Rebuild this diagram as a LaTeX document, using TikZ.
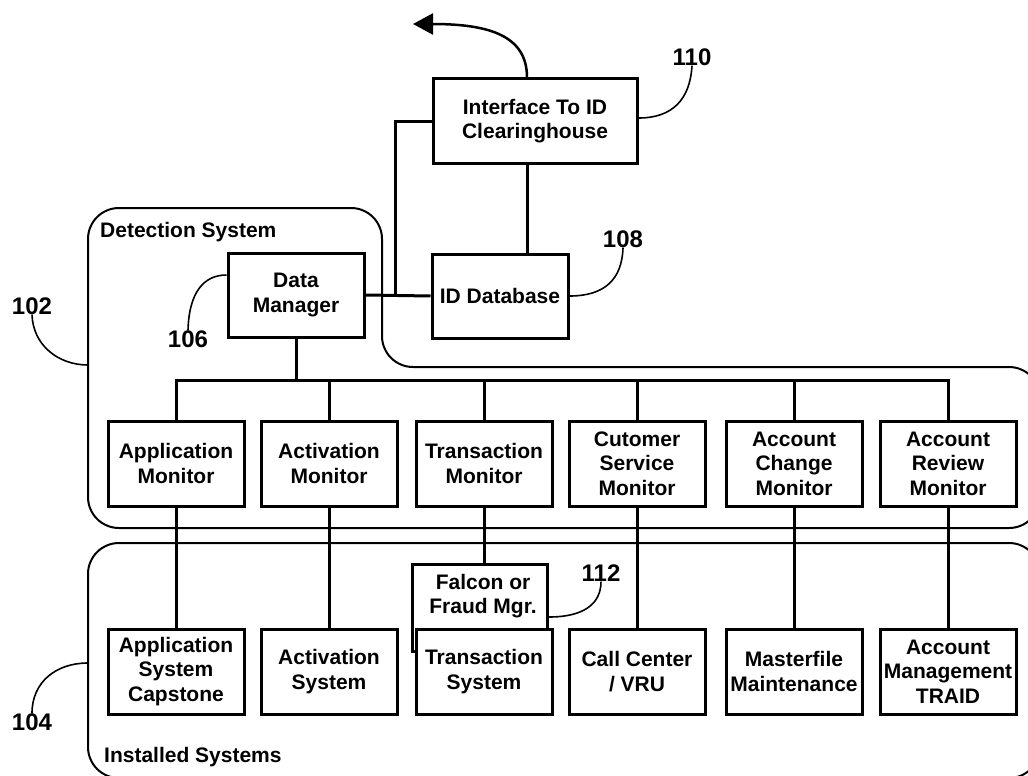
\documentclass[tikz,border=0pt]{standalone}
\usepackage{fontspec}
\setmainfont{Liberation Sans}
\usetikzlibrary{arrows.meta}
\tikzset{
  box/.style={draw, line width=3pt, fill=white, minimum width=136pt, minimum height=85pt,
    align=center, inner sep=1pt, font=\bfseries\fontsize{21}{24.5}\selectfont},
  plaintext/.style={align=center, inner sep=0pt, font=\bfseries\fontsize{21}{24.5}\selectfont},
  conn/.style={line width=3pt},
  outline/.style={line width=2pt, rounded corners=31pt},
  leader/.style={line width=1.6pt},
  refnum/.style={font=\bfseries\fontsize{24}{28}\selectfont, inner sep=0pt},
  grouplabel/.style={font=\bfseries\fontsize{21}{24}\selectfont, anchor=west, inner sep=0pt},
}
\begin{document}
\begin{tikzpicture}[x=1pt, y=-1pt]
\useasboundingbox (0,0) rectangle (1028,776);
\clip (0,0) rectangle (1028,776);
\fill[white] (0,0) rectangle (1028,776);

% group outlines
\draw[outline] (88,208) -- (382,208) -- (382,367) -- (1040,367) -- (1040,528) -- (88,528) -- cycle;
\draw[outline] (88,543) -- (1040,543) -- (1040,778) -- (88,778) -- cycle;
\node[grouplabel] (detlabel) at (100,232) {Detection System};
\node[grouplabel] (inslabel) at (104,757) {Installed Systems};

% top boxes
\node[box, minimum width=204pt, minimum height=84pt] (iface) at (535,121) {Interface To ID\\Clearinghouse};
\node[box, minimum height=84pt] (iddb) at (500,296) {ID Database};
\node[box, minimum height=84pt] (dm) at (296,295) {Data\\Manager};

% monitors
\node[box] (am) at (176,463.5) {Application\\Monitor};
\node[box] (acm) at (329,463.5) {Activation\\Monitor};
\node[box] (tm) at (484,463.5) {Transaction\\Monitor};
\node[box] (csm) at (637,463.5) {Cutomer\\Service\\Monitor};
\node[box] (chm) at (794,463.5) {Account\\Change\\Monitor};
\node[box] (rvm) at (948,463.5) {Account\\Review\\Monitor};

% installed systems
\node[box, minimum width=135pt, minimum height=87pt, anchor=north west] (falcon) at (411,563) {};
\node[plaintext] (falcontext) at (483,596) {Falcon or\\Fraud Mgr.};
\node[box] (as) at (176,671.5) {Application\\System\\Capstone};
\node[box] (acs) at (329,671.5) {Activation\\System};
\node[box] (ts) at (484,671.5) {Transaction\\System};
\node[box] (cc) at (637,671.5) {Call Center\\/ VRU};
\node[box] (mf) at (794,671.5) {Masterfile\\Maintenance};
\node[box] (amg) at (948,671.5) {Account\\Management\\TRAID};

% reference numerals
\node[refnum] (l110) at (692,57) {110};
\node[refnum] (l108) at (623,239) {108};
\node[refnum] (l106) at (188,339) {106};
\node[refnum] (l102) at (32,306) {102};
\node[refnum] (l104) at (32,722) {104};
\node[refnum] (l112) at (601,573) {112};

% helper coordinates
\coordinate (busy) at (0,380);
\coordinate (vx) at (527,0);
\coordinate (jn) at (395,296);
\coordinate (tip) at (413,24);
\coordinate (o102) at (88,365);
\coordinate (o104) at (88,663);

% connectors
\draw[conn] (am.north) |- (busy -| rvm.north) -- (rvm.north);
\draw[conn] (dm.south) -- (dm.south |- busy);
\foreach \m in {acm,tm,csm,chm} { \draw[conn] (\m.north) -- (\m.north |- busy); }
\draw[conn] (am.south) -- (as.north);
\draw[conn] (acm.south) -- (acs.north);
\draw[conn] (tm.south) -- (tm.south |- falcon.north);
\draw[conn] (csm.south) -- (cc.north);
\draw[conn] (chm.south) -- (mf.north);
\draw[conn] (rvm.south) -- (amg.north);
\draw[conn] (dm.east) -- (iddb.west);
\draw[conn] (iface.west) -| (jn);
\draw[conn] (iface.south -| vx) -- (iddb.north -| vx);
\draw[line width=2.5pt, -{Triangle[length=20pt, width=21pt]}] (iface.north -| vx) .. controls (527,36) and (490,24) .. (tip);

% leaders
\draw[leader] (iface.east |- 0,118) .. controls (672,118) and (690,100) .. (l110.south);
\draw[leader] (iddb.east) .. controls (604,296) and (622,280) .. (l108.south);
\draw[leader] (l106.north) .. controls (189,292) and (204,275) .. (dm.west |- 0,275);
\draw[leader] (l102.south) .. controls (33,345) and (58,365) .. (o102);
\draw[leader] (l104.north) .. controls (32,682) and (56,663) .. (o104);
\draw[leader] (falcon.east |- 0,617) .. controls (582,617) and (601,605) .. (l112.south);
\end{tikzpicture}
\end{document}
